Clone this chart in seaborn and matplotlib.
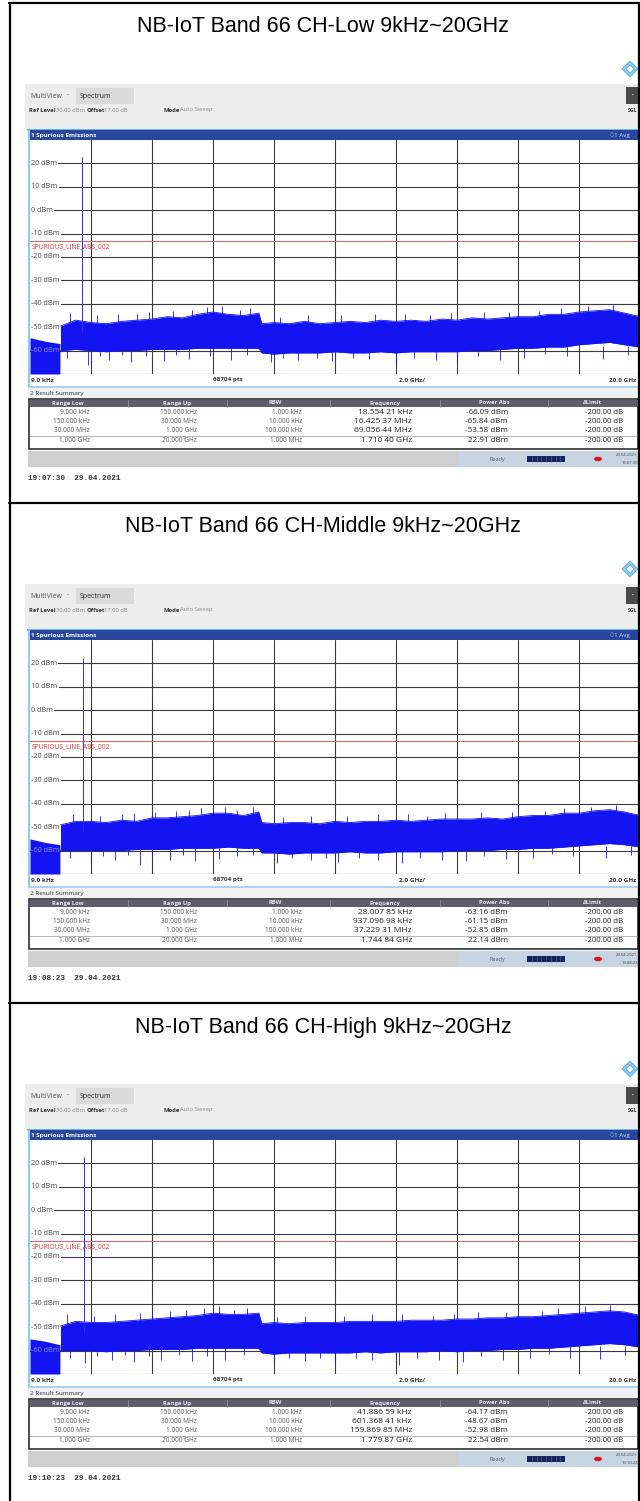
import matplotlib
matplotlib.use("Agg")
import matplotlib.pyplot as plt
from matplotlib.patches import Rectangle, Polygon, Ellipse
import numpy as np
import pandas as pd
import seaborn as sns

sns.set_theme(style="white")
plt.rcParams["font.family"] = ["Open Sans", "DejaVu Sans"]

# ---------------- data ----------------
titles = ["NB-IoT Band 66 CH-Low 9kHz~20GHz",
          "NB-IoT Band 66 CH-Middle 9kHz~20GHz",
          "NB-IoT Band 66 CH-High 9kHz~20GHz"]
timestamps = ["19:07:30  29.04.2021", "19:08:23  29.04.2021", "19:10:23  29.04.2021"]
status_times = ["19:07:30", "19:08:23", "19:10:22"]

y_ticks_dbm = [20, 10, 0, -10, -20, -30, -40, -50]
limit_dbm = -13.0

range_low = ["9.000 kHz", "150.000 kHz", "30.000 MHz", "1.000 GHz"]
range_up = ["150.000 kHz", "30.000 MHz", "1.000 GHz", "20.000 GHz"]
rbw = ["1.000 kHz", "10.000 kHz", "100.000 kHz", "1.000 MHz"]
delta_limit = ["-200.00 dB"] * 4

peak_freq_text = [
    ["18.554 21 kHz", "16.425 37 MHz", "69.056 44 MHz", "1.710 40 GHz"],
    ["28.007 85 kHz", "937.096 98 kHz", "37.229 31 MHz", "1.744 84 GHz"],
    ["41.886 59 kHz", "601.368 41 kHz", "159.869 85 MHz", "1.779 87 GHz"],
]
peak_power = [
    [-66.09, -65.84, -53.58, 22.91],
    [-63.16, -61.15, -52.85, 22.14],
    [-64.17, -48.67, -52.98, 22.54],
]
carrier_ghz = [1.71040, 1.74484, 1.77987]

# low-frequency block (0 .. 1 GHz)
block_ghz = [0.0, 0.5, 0.98]
block_top = [
    [-54.5, -56.0, -57.0],
    [-55.0, -56.5, -57.5],
    [-55.0, -56.0, -57.5],
]

# trace envelope 1 .. 20 GHz
band_ghz = [1.0, 1.5, 2.0, 2.5, 3.0, 3.5, 4.0, 4.5, 5.0, 5.5, 6.0, 6.5, 7.0, 7.5,
            7.6, 8.0, 8.5, 9.0, 9.5, 10.0, 10.5, 11.0, 11.5, 12.0, 12.5, 13.0,
            13.5, 14.0, 14.5, 15.0, 15.5, 16.0, 16.5, 17.0, 17.5, 18.0, 18.5,
            19.0, 19.5, 20.0]
band_upper = [
    [-49.5, -47.0, -48.0, -48.5, -47.5, -47.0, -46.5, -45.5, -46.0, -44.5, -43.5,
     -44.5, -45.0, -44.0, -48.5, -48.0, -48.5, -47.5, -48.5, -48.0, -47.5, -48.0,
     -47.0, -47.5, -47.0, -47.5, -46.5, -47.0, -46.0, -46.5, -46.0, -45.5, -45.5,
     -44.5, -44.5, -43.5, -43.0, -42.5, -44.0, -45.5],
    [-49.0, -47.5, -47.5, -48.0, -47.0, -47.5, -46.0, -46.0, -45.5, -45.0, -44.0,
     -44.0, -45.0, -43.5, -48.0, -48.5, -48.0, -48.0, -48.5, -47.5, -48.0, -47.5,
     -47.5, -47.0, -47.5, -47.0, -46.5, -46.5, -46.5, -46.0, -46.5, -45.5, -45.0,
     -45.0, -44.0, -44.0, -43.0, -42.5, -43.5, -45.0],
    [-49.5, -47.5, -48.0, -48.0, -47.5, -47.0, -46.5, -46.0, -45.5, -45.0, -44.0,
     -44.5, -44.5, -44.0, -48.5, -48.0, -48.5, -48.0, -48.0, -48.0, -47.5, -47.5,
     -47.5, -47.5, -47.0, -47.0, -47.0, -46.5, -46.5, -46.0, -46.0, -45.5, -45.5,
     -45.0, -44.5, -44.0, -43.5, -43.0, -43.5, -45.0],
]
band_lower = [
    [-60.0, -59.5, -60.0, -60.5, -60.0, -60.0, -59.5, -59.5, -59.5, -59.0, -59.0,
     -59.0, -59.0, -59.0, -61.0, -61.5, -61.0, -61.0, -61.0, -60.5, -61.0, -61.0,
     -60.5, -61.0, -60.5, -60.5, -60.5, -60.5, -60.0, -60.0, -59.5, -59.0, -59.0,
     -58.5, -58.5, -57.5, -57.0, -56.5, -57.5, -58.5],
    [-60.0, -60.0, -60.0, -60.0, -60.0, -59.5, -59.5, -59.5, -59.0, -59.0, -59.0,
     -58.5, -59.0, -59.0, -61.0, -61.0, -61.5, -61.0, -61.0, -61.0, -60.5, -61.0,
     -61.0, -60.5, -60.5, -60.5, -60.5, -60.0, -60.0, -60.0, -59.5, -59.5, -59.0,
     -59.0, -58.5, -58.0, -57.5, -57.0, -57.5, -58.5],
    [-60.0, -60.0, -60.0, -60.5, -60.0, -60.0, -59.5, -59.5, -59.5, -59.0, -59.0,
     -59.0, -59.0, -59.0, -61.0, -61.5, -61.0, -61.0, -61.0, -61.0, -61.0, -60.5,
     -61.0, -60.5, -60.5, -60.5, -60.0, -60.5, -60.0, -60.0, -59.5, -59.5, -59.0,
     -59.0, -58.5, -58.0, -57.5, -57.0, -57.5, -58.5],
]

# isolated excursions of the trace (GHz, dBm)
spikes_down = [
    [(1.2, -63), (1.9, -66), (2.3, -62.5), (2.6, -64), (3.0, -62), (3.3, -65),
     (3.8, -62.5), (4.4, -64.5), (4.8, -62), (5.2, -63.5), (5.9, -62.5), (6.6, -64),
     (7.1, -62), (7.9, -65), (8.3, -63), (8.8, -64), (9.4, -63), (9.9, -64.5),
     (10.6, -63), (11.1, -63.5), (12.0, -66), (12.6, -63), (13.3, -64), (14.0, -65),
     (14.7, -62.5), (15.4, -64), (16.2, -63), (16.9, -61.5), (17.6, -62.5),
     (18.8, -63.5), (19.6, -62)],
    [(1.3, -63), (2.0, -65), (2.4, -62.5), (2.8, -64), (3.2, -62), (3.6, -66),
     (4.0, -62.5), (4.6, -64), (5.0, -62), (5.4, -64.5), (6.2, -63.5), (6.8, -62.5),
     (7.3, -62), (8.1, -65.5), (8.6, -63), (9.2, -64), (9.7, -63), (10.1, -65),
     (10.8, -63), (11.4, -64), (12.2, -65.5), (12.8, -63), (13.5, -64), (14.3, -64.5),
     (14.9, -62.5), (15.6, -63.5), (16.5, -63), (17.1, -61.5), (17.8, -62.5),
     (18.9, -63), (19.7, -62)],
    [(1.3, -63), (1.8, -65.5), (2.2, -62.5), (2.7, -64), (3.1, -62), (3.4, -65),
     (3.9, -62.5), (4.3, -64), (4.9, -62), (5.3, -64.5), (5.8, -62.5), (6.4, -64),
     (7.0, -62), (8.0, -65), (8.5, -63), (9.0, -64.5), (9.5, -63), (10.0, -65),
     (10.7, -63), (11.2, -64), (12.1, -66), (12.7, -63), (13.4, -64), (14.2, -65),
     (14.8, -62.5), (15.5, -64), (16.4, -63), (17.0, -61.5), (17.7, -63),
     (18.7, -63.5), (19.5, -62)],
]
spikes_up = [
    [(1.3, -44), (2.2, -45), (2.9, -44.5), (3.5, -44.5), (3.9, -43.5), (4.7, -43),
     (5.3, -42.5), (5.8, -41.5), (6.3, -41), (6.9, -42.5), (7.2, -42), (8.2, -45.5),
     (9.1, -45), (10.2, -45), (11.3, -44.5), (12.3, -44.5), (13.1, -45), (13.8, -44),
     (14.9, -43.5), (15.7, -43.5), (16.7, -43), (17.4, -42), (18.3, -41), (19.1, -40.5)],
    [(1.4, -44.5), (2.3, -45), (3.0, -44.5), (3.4, -44), (4.1, -43.5), (4.8, -43),
     (5.2, -42.5), (5.6, -42), (6.4, -41.5), (6.8, -42.5), (7.3, -41.5), (8.3, -45.5),
     (9.2, -45), (10.4, -45), (11.4, -44.5), (12.4, -44.5), (13.0, -45), (13.6, -44),
     (14.8, -43.5), (15.8, -43.5), (16.9, -43), (17.5, -42), (18.4, -41.5), (19.2, -40.5)],
    [(1.2, -44.5), (2.1, -45), (2.8, -44.5), (3.6, -44), (4.0, -43), (4.6, -43),
     (5.1, -42.5), (5.7, -42), (6.2, -41), (6.7, -42.5), (7.1, -42), (8.1, -45.5),
     (9.0, -45), (10.3, -45), (11.2, -44.5), (12.2, -44.5), (13.2, -45), (13.9, -44.5),
     (14.7, -43.5), (15.6, -43.5), (16.8, -43), (17.3, -42), (18.2, -41), (19.0, -40.5)],
]

# ---------------- layout helpers ----------------
W, H = 640, 1501
PITCH = 500
TRACE = "#1414f2"
TXT = "#3c3c3c"

fig = plt.figure(figsize=(W / 100, H / 100), dpi=100)
fig.patch.set_facecolor("white")

bg = fig.add_axes([0, 0, 1, 1])
bg.set_xlim(0, W)
bg.set_ylim(H, 0)
bg.axis("off")


def fig_rect(x0, y0, x1, y1):
    return [x0 / W, 1 - y1 / H, (x1 - x0) / W, (y1 - y0) / H]


def box(x, y, w, h, color, **kw):
    bg.add_patch(Rectangle((x, y), w, h, facecolor=color, edgecolor="none", **kw))


def t(x, y, s, size=4.5, color=TXT, ha="left", weight="normal", **kw):
    bg.text(x, y, s, fontsize=size, color=color, ha=ha, va="center",
            fontweight=weight, **kw)


col_sep = [128, 227, 330, 440, 548]
col_head_x = [68, 177, 275, 385, 494, 592]
col_heads = ["Range Low", "Range Up", "RBW", "Frequency", "Power Abs", "\u0394Limit"]
col_right = [90, 197, 302, 412, 508, 623]
row_y = [412, 421.5, 431, 440.5]

for k in range(3):
    oy = PITCH * k

    # heading of the section
    bg.text(323, 27 + oy, titles[k], fontsize=15.5, ha="center", va="center",
            color="black", family=["Liberation Sans", "DejaVu Sans"])

    # vendor logo
    cx, cy = 630, 69 + oy
    bg.add_patch(Polygon([(cx, cy - 8), (cx + 8, cy), (cx, cy + 8), (cx - 8, cy)],
                         closed=True, facecolor="#8ccbec", edgecolor="#4aa8dc", lw=0.5))
    bg.add_patch(Polygon([(cx, cy - 4), (cx + 4, cy), (cx, cy + 4), (cx - 4, cy)],
                         closed=True, facecolor="white", edgecolor="#4aa8dc", lw=0.5))

    # instrument toolbar
    box(25, 84 + oy, 615, 46, "#ededed")
    box(76, 88 + oy, 58, 16, "#dadada")
    t(30, 96 + oy, "MultiView", 5.0, "#555555")
    t(66, 95 + oy, "\u2022", 4.5, "#5aa0d8")
    t(80, 96 + oy, "Spectrum", 5.0, "#2a2a2a")
    t(29, 110 + oy, "Ref Level", 4.2, "#333333", weight="bold")
    t(56, 110 + oy, "30.00 dBm", 4.2, "#888888")
    t(87, 110 + oy, "Offset", 4.2, "#333333", weight="bold")
    t(104, 110 + oy, "17.00 dB", 4.2, "#888888")
    t(163, 110 + oy, "Mode", 4.2, "#333333", weight="bold")
    t(180, 110 + oy, "Auto Sweep", 4.2, "#888888")
    box(626, 87 + oy, 14, 17, "#4a4a4a")
    t(633, 95 + oy, "\u2022", 3.5, "white", ha="center")
    t(633, 111 + oy, "SGL", 3.8, "#333333", ha="center", weight="bold")

    # diagram window title bar
    box(27, 128.5 + oy, 613, 2, "#6fb6e8")
    box(29, 130 + oy, 611, 10, "#26479c")
    t(31, 135.2 + oy, "1 Spurious Emissions", 4.5, "white", weight="bold")
    t(612, 135.2 + oy, "\u25cb", 3.6, "#9fb3e0", ha="center")
    t(630, 135.2 + oy, "1 Avg", 4.5, "#c9d5f2", ha="right")
    box(28, 130 + oy, 1.6, 258, "#8fcaf0")

    # bottom axis annotation row
    t(31, 380 + oy, "9.0 kHz", 4.6, "#333333", weight="bold")
    t(228, 380 + oy, "68704 pts", 4.6, "#333333", ha="center", weight="bold")
    t(412, 380 + oy, "2.0 GHz/", 4.6, "#333333", ha="center", weight="bold")
    t(636, 380 + oy, "20.0 GHz", 4.6, "#333333", ha="right", weight="bold")
    box(28, 386 + oy, 612, 2, "#a9d3f2")

    # result summary
    box(28, 388 + oy, 612, 10, "#f1f1f1")
    t(30, 393 + oy, "2 Result Summary", 4.6, "#333333")
    bg.add_patch(Rectangle((29, 398.5 + oy), 609, 50, facecolor="white",
                           edgecolor="#1e1e1e", lw=1.1))
    box(30, 399.5 + oy, 608, 7, "#5d5d6b")
    for xs in col_sep:
        bg.plot([xs, xs], [399.5 + oy, 406.5 + oy], color="#9a9aa8", lw=0.5)
    for hx, hs in zip(col_head_x, col_heads):
        t(hx, 403 + oy, hs, 4.2, "#e6e6ee", ha="center", weight="bold")
    bg.plot([30, 638], [436 + oy, 436 + oy], color="#9a9a9a", lw=0.5)
    for r in range(4):
        yy = row_y[r] + oy
        t(col_right[0], yy, range_low[r], 4.7, "#555555", ha="right")
        t(col_right[1], yy, range_up[r], 4.7, "#555555", ha="right")
        t(col_right[2], yy, rbw[r], 4.7, "#555555", ha="right")
        t(col_right[3], yy, peak_freq_text[k][r], 6.0, "#1e1e1e", ha="right")
        t(col_right[4], yy, f"{peak_power[k][r]:.2f} dBm", 5.8, "#1e1e1e", ha="right")
        t(col_right[5], yy, delta_limit[r], 5.6, "#1e1e1e", ha="right")

    # status bar
    box(28, 451 + oy, 612, 16, "#cfcfcf")
    box(458, 451 + oy, 182, 16, "#c7d4e2")
    t(497, 459 + oy, "Ready", 4.0, "#555566", ha="center")
    box(527, 455.5 + oy, 38, 6, "#16245e")
    for j in range(1, 8):
        bg.plot([527 + j * 38 / 8] * 2, [455.5 + oy, 461.5 + oy], color="#5a6aa8", lw=0.4)
    bg.add_patch(Ellipse((598, 459 + oy), 8, 4.5, facecolor="#d81818", edgecolor="none"))
    t(626, 455.5 + oy, "29.04.2021", 3.0, "#444444", ha="center")
    t(630, 462.5 + oy, status_times[k], 3.0, "#444444", ha="center")

    # capture time stamp
    t(28, 478 + oy, timestamps[k], 5.6, "#333333", weight="bold",
      family=["Liberation Mono", "DejaVu Sans Mono"])

    # ---------------- spectrum diagram ----------------
    ax = fig.add_axes(fig_rect(30, 140 + oy, 640, 374 + oy))
    ax.set_xlim(0, 20)
    ax.set_ylim(-70, 30)
    ax.set_facecolor("white")
    for s in ax.spines.values():
        s.set_visible(False)
    ax.set_xticks([])
    ax.set_yticks([])
    for gx in range(2, 21, 2):
        ax.axvline(gx, color="#3a3a3a", lw=0.8, zorder=1)
    for gy in range(-70, 30, 10):
        ax.axhline(gy, color="#3a3a3a", lw=0.8, zorder=1)

    for v in y_ticks_dbm:
        ax.text(0.04, v, f"{v} dBm", fontsize=5.2, color="#444444", va="center",
                ha="left", zorder=2,
                bbox=dict(facecolor="white", edgecolor="none", pad=0.8))

    ax.axhline(limit_dbm, color="#e65a5a", lw=0.7, zorder=3)
    ax.text(0.04, limit_dbm - 1.2, "SPURIOUS_LINE_ABS_002", fontsize=4.8,
            color="#e03a3a", va="top", ha="left", zorder=3)

    ax.fill_between(block_ghz, -70, block_top[k], color=TRACE, lw=0, zorder=4)
    ax.fill_between(band_ghz, band_lower[k], band_upper[k], color=TRACE, lw=0, zorder=4)
    env = pd.DataFrame({"f": band_ghz, "upper": band_upper[k], "lower": band_lower[k]})
    sns.lineplot(data=env, x="f", y="upper", ax=ax, color=TRACE, lw=0.6, zorder=4)
    sns.lineplot(data=env, x="f", y="lower", ax=ax, color=TRACE, lw=0.6, zorder=4)
    ax.set_xlabel("")
    ax.set_ylabel("")

    dn_f = [p[0] for p in spikes_down[k]]
    dn_v = [p[1] for p in spikes_down[k]]
    ax.vlines(dn_f, dn_v, -58, color=TRACE, lw=0.6, zorder=4)
    up_f = [p[0] for p in spikes_up[k]]
    up_v = [p[1] for p in spikes_up[k]]
    ax.vlines(up_f, -50, up_v, color=TRACE, lw=0.6, zorder=4)

    ax.vlines([carrier_ghz[k]], -52, peak_power[k][3], color="#3030e0", lw=0.7, zorder=4)

    ax.text(0.04, -60, "-60 dBm", fontsize=5.2, color="#8a8ad8", va="center",
            ha="left", zorder=5)

# ---------------- outer frame ----------------
ov = fig.add_axes([0, 0, 1, 1])
ov.set_xlim(0, W)
ov.set_ylim(H, 0)
ov.axis("off")
ov.patch.set_alpha(0)
ov.plot([10, 10], [3, H], color="black", lw=1.6)
ov.plot([638.5, 638.5], [3, H], color="black", lw=1.6)
ov.plot([9.2, 639.3], [3, 3], color="black", lw=1.6)
for sy in (503, 1003):
    ov.plot([9.2, 639.3], [sy, sy], color="black", lw=1.6)

fig.savefig("out.png", dpi=100, facecolor="white")
